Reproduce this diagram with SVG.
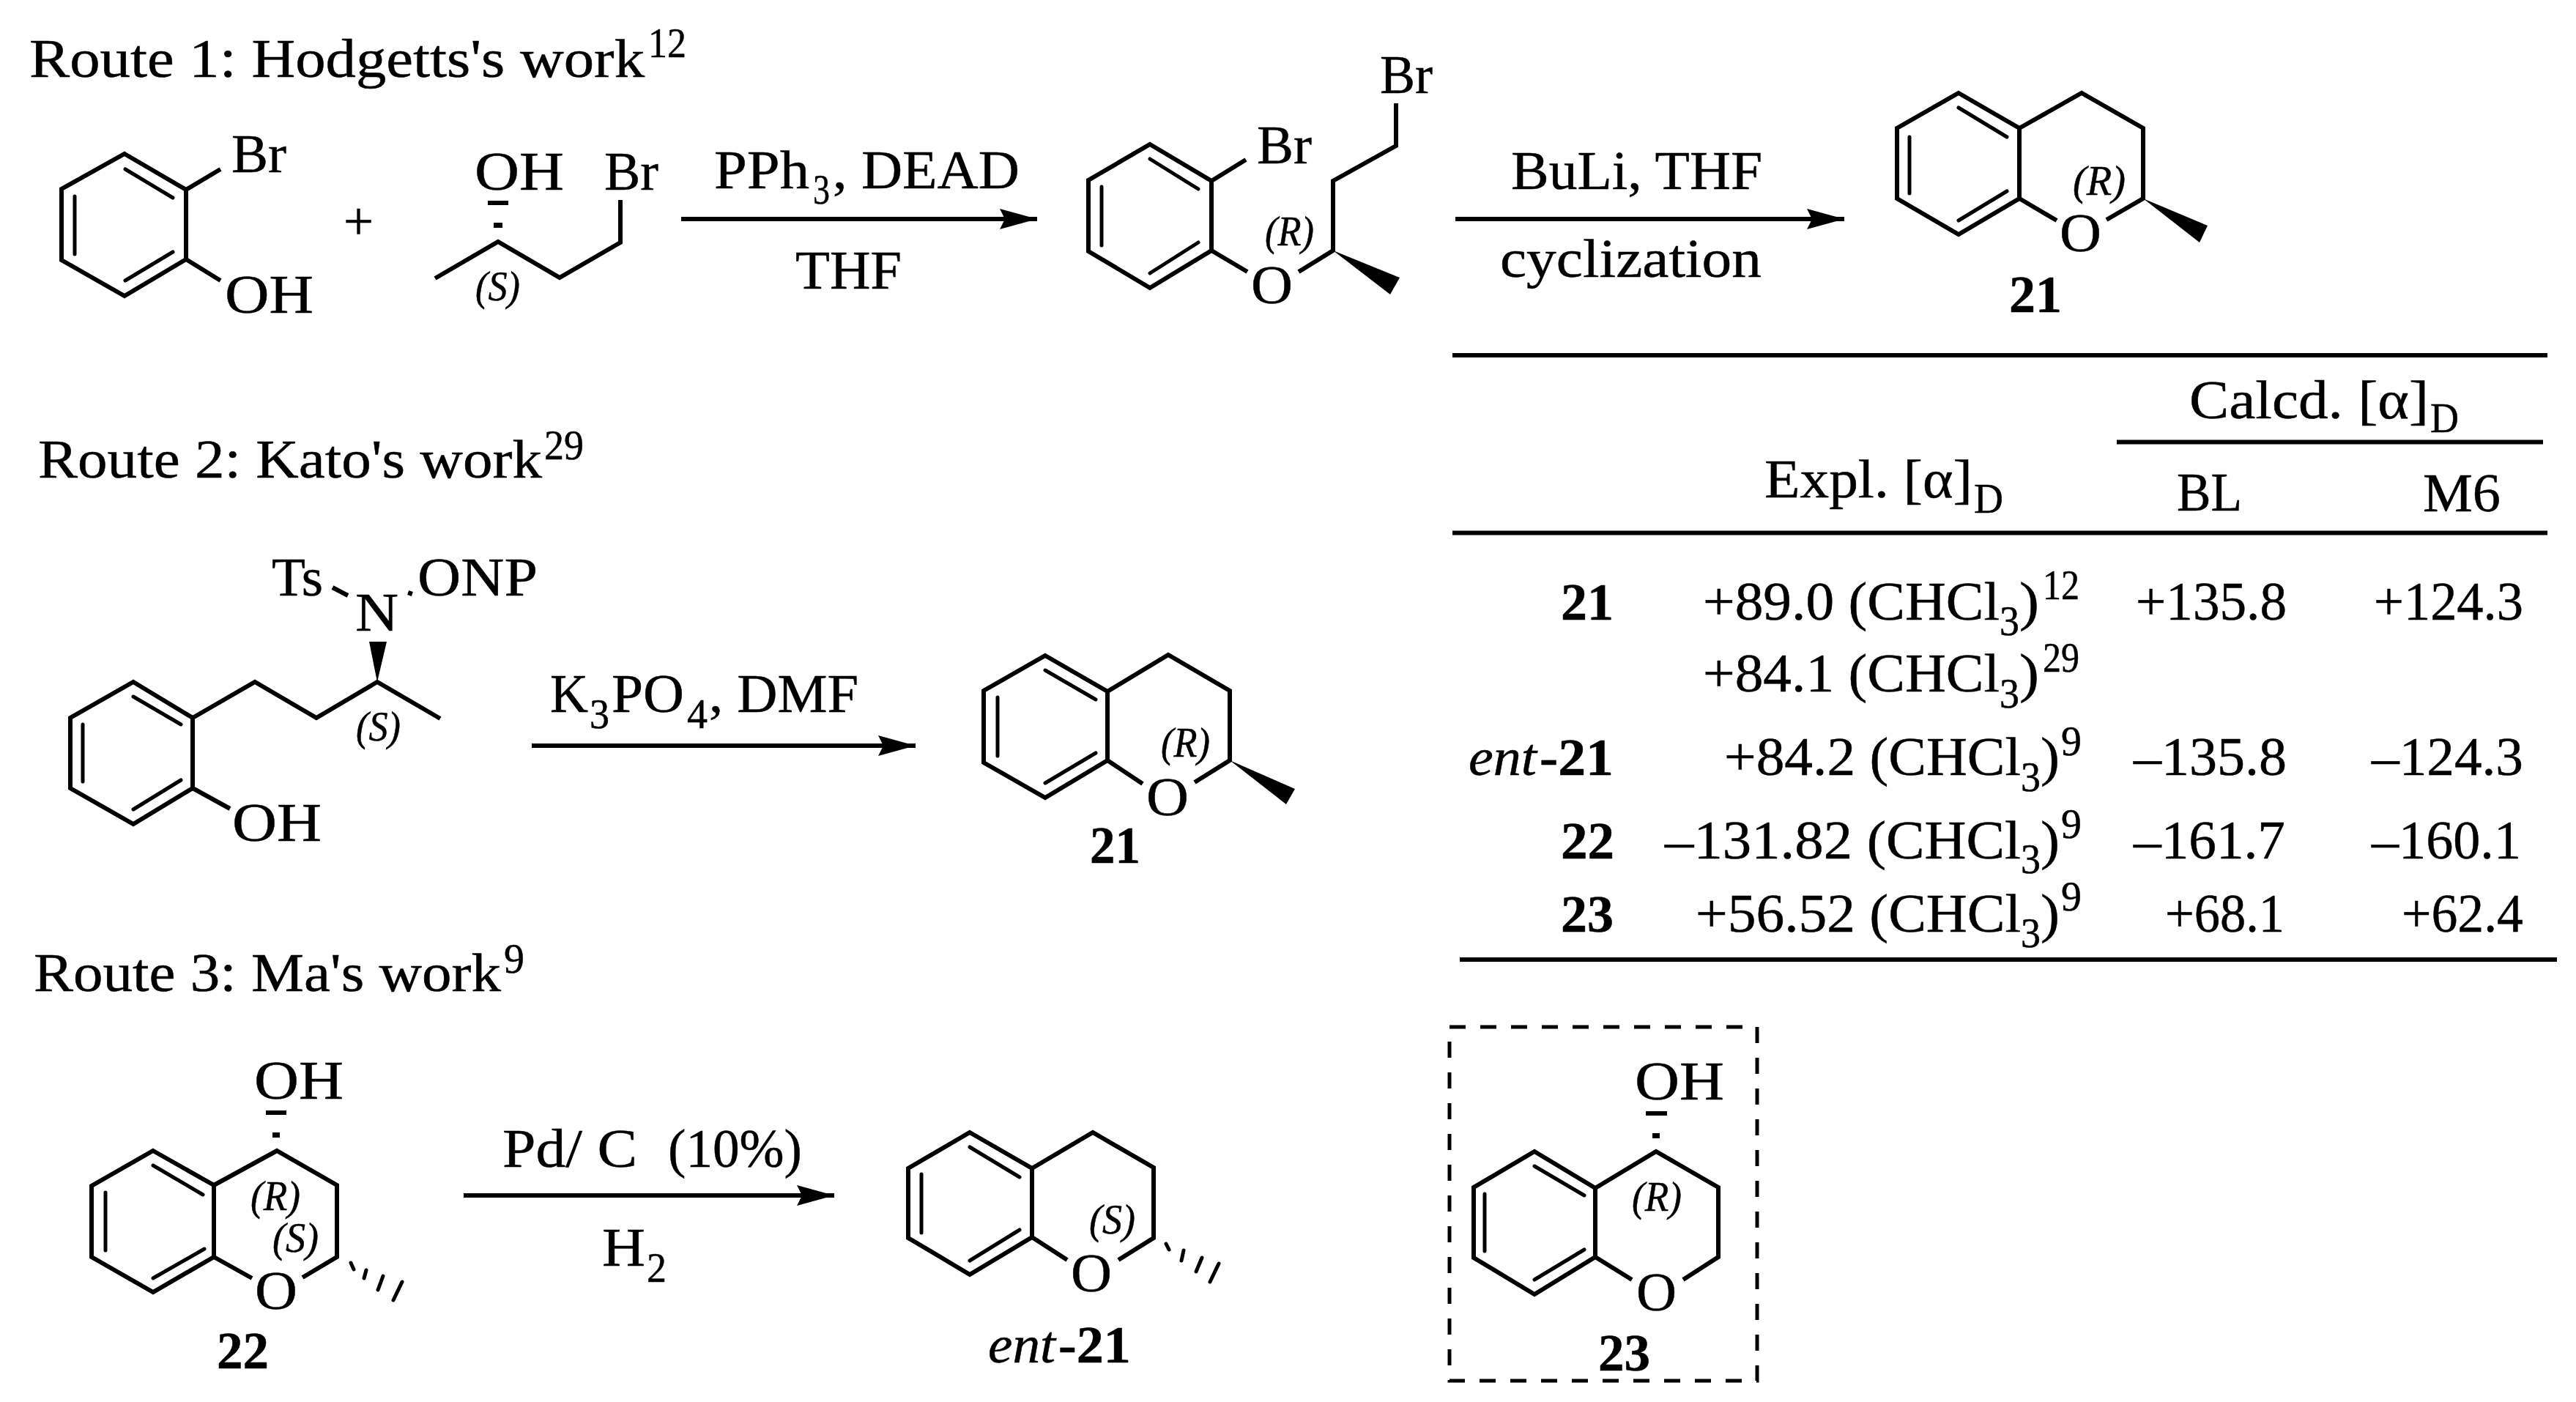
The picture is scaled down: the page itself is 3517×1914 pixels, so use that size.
<svg xmlns="http://www.w3.org/2000/svg" width="3517" height="1914" viewBox="0 0 3517 1914">
<style>
text{font-family:"Liberation Serif","Times New Roman",serif;fill:#000;font-size:75px;stroke:#000;stroke-width:.5}
.s{font-size:56px}
.b{font-weight:bold;font-size:71px}
.n{font-weight:normal}
.i{font-style:italic;font-size:58px}
.e{font-style:italic;font-weight:normal}
.l{fill:none;stroke:#000;stroke-width:6;stroke-linejoin:miter;stroke-linecap:butt}
.d{fill:none;stroke:#000;stroke-width:5;stroke-linecap:round}
.r{fill:none;stroke:#000;stroke-width:5;stroke-linecap:butt}
.k{fill:#000;stroke:none}
</style>
<defs>
<marker id="ah" markerUnits="userSpaceOnUse" markerWidth="52" markerHeight="28" refX="51" refY="14" orient="auto"><path d="M51 14L0 0L7 14L0 28Z" fill="#000"/></marker>
</defs>
<rect width="3517" height="1914" fill="#fff"/>
<g id="titles">
<text><tspan x="40" y="105" textLength="840" lengthAdjust="spacingAndGlyphs">Route 1: Hodgetts's work</tspan><tspan class="s" x="885" y="78" textLength="52" lengthAdjust="spacingAndGlyphs">12</tspan></text>
<text><tspan x="52" y="652" textLength="688" lengthAdjust="spacingAndGlyphs">Route 2: Kato's work</tspan><tspan class="s" x="743" y="627" textLength="54" lengthAdjust="spacingAndGlyphs">29</tspan></text>
<text><tspan x="46" y="1353" textLength="638" lengthAdjust="spacingAndGlyphs">Route 3: Ma's work</tspan><tspan class="s" x="688" y="1328" textLength="28" lengthAdjust="spacingAndGlyphs">9</tspan></text>
</g>
<g id="bromophenol">
<path class="l" d="M170 210L254 259V354L170 404L84 355V258Z"/>
<path class="d" d="M171 231L236 270M102 268V347M171 383L236 344"/>
<path class="l" d="M254 259L301 231M254 354L301 383"/>
<text x="316" y="235" textLength="75" lengthAdjust="spacingAndGlyphs">Br</text>
<text x="307" y="427" textLength="121" lengthAdjust="spacingAndGlyphs">OH</text>
</g>
<text id="plus" x="469" y="327" textLength="41" lengthAdjust="spacingAndGlyphs" style="font-size:73px">+</text>
<g id="bromobutanol">
<path class="l" d="M594 380L680 330L764 379L847 331V273"/>
<rect class="k" x="666" y="274" width="28" height="6"/>
<rect class="k" x="674" y="304" width="12" height="7"/>
<text x="648" y="259" textLength="122" lengthAdjust="spacingAndGlyphs">OH</text>
<text x="825" y="259" textLength="74" lengthAdjust="spacingAndGlyphs">Br</text>
<text class="i" x="649" y="410" textLength="61" lengthAdjust="spacingAndGlyphs">(S)</text>
</g>
<g id="ether">
<path class="l" d="M1570 197L1654 247V342L1570 393L1486 343V246Z"/>
<path class="d" d="M1570 217L1636 258M1504 255V335M1570 373L1636 331"/>
<path class="l" d="M1654 247L1701 218M1654 342L1703 371M1773 371L1820 342V247L1906 199V141"/>
<polygon class="k" points="1820,342 1911,379 1898,402"/>
<text x="1716" y="223" textLength="75" lengthAdjust="spacingAndGlyphs">Br</text>
<text x="1884" y="127" textLength="72" lengthAdjust="spacingAndGlyphs">Br</text>
<text x="1708" y="414" textLength="57" lengthAdjust="spacingAndGlyphs">O</text>
<text class="i" x="1727" y="335" textLength="67" lengthAdjust="spacingAndGlyphs">(R)</text>
</g>
<g id="compound-21-route1">
<path class="l" d="M2674 127L2757 175V271L2674 320L2590 271V175Z"/>
<path class="d" d="M2674 147L2740 187M2607 187V264M2674 301L2740 261"/>
<path class="l" d="M2757 175L2842 127L2926 175V271L2876 300M2757 271L2808 301"/>
<polygon class="k" points="2926,271 3014,308 3003,331"/>
<text x="2812" y="343" textLength="57" lengthAdjust="spacingAndGlyphs">O</text>
<text class="i" x="2830" y="266" textLength="72" lengthAdjust="spacingAndGlyphs">(R)</text>
<text class="b" x="2743" y="426" textLength="72" lengthAdjust="spacingAndGlyphs">21</text>
</g>
<g id="precursor-route2">
<path class="l" d="M182 931L263 980V1076L182 1125L96 1076V980Z"/>
<path class="d" d="M182 951L247 989M113 989V1067M182 1105L247 1065"/>
<path class="l" d="M263 980L348 931L432 980L515 931L601 981M263 1076L314 1104"/>
<polygon class="k" points="515,931 504,876 528,876"/>
<path class="l" d="M454 802L475 813M561 807L559 813"/>
<text x="485" y="861" textLength="59" lengthAdjust="spacingAndGlyphs">N</text>
<text x="371" y="813" textLength="70" lengthAdjust="spacingAndGlyphs">Ts</text>
<text x="570" y="813" textLength="164" lengthAdjust="spacingAndGlyphs">ONP</text>
<text x="317" y="1148" textLength="122" lengthAdjust="spacingAndGlyphs">OH</text>
<text class="i" x="486" y="1011" textLength="61" lengthAdjust="spacingAndGlyphs">(S)</text>
</g>
<g id="compound-21-route2">
<path class="l" d="M1427 895L1512 944V1038L1427 1089L1343 1041V943Z"/>
<path class="d" d="M1427 915L1496 955M1362 952V1032M1427 1069L1496 1028"/>
<path class="l" d="M1512 944L1595 894L1679 943V1038L1631 1068M1512 1038L1560 1070"/>
<polygon class="k" points="1679,1038 1768,1077 1756,1098"/>
<text x="1565" y="1113" textLength="58" lengthAdjust="spacingAndGlyphs">O</text>
<text class="i" x="1585" y="1033" textLength="67" lengthAdjust="spacingAndGlyphs">(R)</text>
<text class="b" x="1488" y="1178" textLength="69" lengthAdjust="spacingAndGlyphs">21</text>
</g>
<g id="compound-22">
<path class="l" d="M209 1571L292 1618V1716L209 1764L125 1716V1619Z"/>
<path class="d" d="M209 1591L277 1631M144 1628V1707M209 1745L279 1705"/>
<path class="l" d="M292 1618L378 1571L460 1618V1716L413 1744M292 1716L344 1745"/>
<path class="d" d="M479 1724L483 1733M500 1734L497 1745M523 1742L516 1761M549 1750L537 1775"/>
<rect class="k" x="363" y="1516" width="28" height="6"/>
<rect class="k" x="372" y="1546" width="10" height="7"/>
<text x="347" y="1500" textLength="122" lengthAdjust="spacingAndGlyphs">OH</text>
<text x="348" y="1787" textLength="58" lengthAdjust="spacingAndGlyphs">O</text>
<text class="i" x="342" y="1652" textLength="68" lengthAdjust="spacingAndGlyphs">(R)</text>
<text class="i" x="372" y="1709" textLength="63" lengthAdjust="spacingAndGlyphs">(S)</text>
<text class="b" x="296" y="1868" textLength="71" lengthAdjust="spacingAndGlyphs">22</text>
</g>
<g id="compound-ent-21">
<path class="l" d="M1324 1546L1409 1595V1689L1324 1740L1240 1690V1595Z"/>
<path class="d" d="M1324 1566L1392 1607M1258 1603V1683M1324 1721L1392 1679"/>
<path class="l" d="M1409 1595L1492 1546L1575 1594V1690L1527 1720M1409 1689L1457 1720"/>
<path class="d" d="M1592 1698L1596 1706M1616 1707L1613 1721M1641 1717L1633 1736M1664 1725L1652 1750"/>
<text x="1462" y="1763" textLength="56" lengthAdjust="spacingAndGlyphs">O</text>
<text class="i" x="1487" y="1684" textLength="63" lengthAdjust="spacingAndGlyphs">(S)</text>
<text class="b"><tspan class="e" x="1349" y="1860" textLength="92" lengthAdjust="spacingAndGlyphs">ent</tspan><tspan x="1445" y="1860" textLength="99" lengthAdjust="spacingAndGlyphs">-21</tspan></text>
</g>
<g id="compound-23">
<rect class="r" x="1979" y="1402" width="420" height="483" stroke-dasharray="22 20"/>
<path class="l" d="M2095 1572L2178 1622V1716L2095 1767L2012 1717V1621Z"/>
<path class="d" d="M2095 1592L2163 1632M2027 1630V1708M2095 1747L2163 1706"/>
<path class="l" d="M2178 1622L2261 1572L2346 1621V1716L2298 1747M2178 1716L2228 1747"/>
<rect class="k" x="2247" y="1517" width="29" height="6"/>
<rect class="k" x="2256" y="1547" width="10" height="7"/>
<text x="2232" y="1501" textLength="122" lengthAdjust="spacingAndGlyphs">OH</text>
<text x="2234" y="1789" textLength="55" lengthAdjust="spacingAndGlyphs">O</text>
<text class="i" x="2228" y="1653" textLength="68" lengthAdjust="spacingAndGlyphs">(R)</text>
<text class="b" x="2182" y="1871" textLength="71" lengthAdjust="spacingAndGlyphs">23</text>
</g>
<g id="connectors">
<line class="l" x1="930" y1="299" x2="1416" y2="299" marker-end="url(#ah)"/>
<line class="l" x1="1987" y1="299" x2="2518" y2="299" marker-end="url(#ah)"/>
<line class="l" x1="726" y1="1018" x2="1250" y2="1018" marker-end="url(#ah)"/>
<line class="l" x1="633" y1="1632" x2="1139" y2="1632" marker-end="url(#ah)"/>
</g>
<g id="reaction-labels">
<text><tspan x="975" y="257" textLength="130" lengthAdjust="spacingAndGlyphs">PPh</tspan><tspan class="s" x="1110" y="278" textLength="23" lengthAdjust="spacingAndGlyphs">3</tspan><tspan x="1137" y="257" textLength="255" lengthAdjust="spacingAndGlyphs">, DEAD</tspan></text>
<text x="1086" y="394" textLength="145" lengthAdjust="spacingAndGlyphs">THF</text>
<text x="2063" y="258" textLength="343" lengthAdjust="spacingAndGlyphs">BuLi, THF</text>
<text x="2048" y="378" textLength="357" lengthAdjust="spacingAndGlyphs">cyclization</text>
<text><tspan x="751" y="972" textLength="52" lengthAdjust="spacingAndGlyphs">K</tspan><tspan class="s" x="805" y="994" textLength="27" lengthAdjust="spacingAndGlyphs">3</tspan><tspan x="835" y="972" textLength="99" lengthAdjust="spacingAndGlyphs">PO</tspan><tspan class="s" x="938" y="994" textLength="28" lengthAdjust="spacingAndGlyphs">4</tspan><tspan x="968" y="972" textLength="204" lengthAdjust="spacingAndGlyphs">, DMF</tspan></text>
<text xml:space="preserve"><tspan x="686" y="1593" textLength="184" lengthAdjust="spacingAndGlyphs">Pd/ C</tspan><tspan x="912" y="1593" textLength="183" lengthAdjust="spacingAndGlyphs">(10%)</tspan></text>
<text><tspan x="822" y="1728" textLength="59" lengthAdjust="spacingAndGlyphs">H</tspan><tspan class="s" x="883" y="1750" textLength="27" lengthAdjust="spacingAndGlyphs">2</tspan></text>
</g>
<g id="table">
<path class="l" d="M1983 485H3478M2890 603.500H3472M1983 727.500H3478M1993 1310H3491"/>
<text><tspan x="2989" y="571" textLength="327" lengthAdjust="spacingAndGlyphs">Calcd. [α]</tspan><tspan class="s" x="3318" y="590" textLength="39" lengthAdjust="spacingAndGlyphs">D</tspan></text>
<text><tspan x="2409" y="679" textLength="284" lengthAdjust="spacingAndGlyphs">Expl. [α]</tspan><tspan class="s" x="2695" y="700" textLength="40" lengthAdjust="spacingAndGlyphs">D</tspan></text>
<text x="2972" y="697" textLength="89" lengthAdjust="spacingAndGlyphs">BL</text>
<text x="3308" y="698" textLength="106" lengthAdjust="spacingAndGlyphs">M6</text>
<text class="b" x="2131" y="846" textLength="72" lengthAdjust="spacingAndGlyphs">21</text>
<text><tspan x="2325" y="846" textLength="405" lengthAdjust="spacingAndGlyphs">+89.0 (CHCl</tspan><tspan class="s" x="2730" y="867" textLength="27" lengthAdjust="spacingAndGlyphs">3</tspan><tspan x="2757" y="846" textLength="27" lengthAdjust="spacingAndGlyphs">)</tspan><tspan class="s" x="2789" y="818" textLength="50" lengthAdjust="spacingAndGlyphs">12</tspan></text>
<text x="2916" y="846" textLength="206" lengthAdjust="spacingAndGlyphs">+135.8</text>
<text x="3241" y="846" textLength="204" lengthAdjust="spacingAndGlyphs">+124.3</text>
<text><tspan x="2325" y="944" textLength="405" lengthAdjust="spacingAndGlyphs">+84.1 (CHCl</tspan><tspan class="s" x="2730" y="966" textLength="27" lengthAdjust="spacingAndGlyphs">3</tspan><tspan x="2757" y="944" textLength="27" lengthAdjust="spacingAndGlyphs">)</tspan><tspan class="s" x="2789" y="917" textLength="50" lengthAdjust="spacingAndGlyphs">29</tspan></text>
<text class="b"><tspan class="e" x="2005" y="1058" textLength="93" lengthAdjust="spacingAndGlyphs">ent</tspan><tspan x="2102" y="1058" textLength="101" lengthAdjust="spacingAndGlyphs">-21</tspan></text>
<text><tspan x="2354" y="1058" textLength="405" lengthAdjust="spacingAndGlyphs">+84.2 (CHCl</tspan><tspan class="s" x="2759" y="1080" textLength="27" lengthAdjust="spacingAndGlyphs">3</tspan><tspan x="2786" y="1058" textLength="26" lengthAdjust="spacingAndGlyphs">)</tspan><tspan class="s" x="2814" y="1031" textLength="28" lengthAdjust="spacingAndGlyphs">9</tspan></text>
<text x="2913" y="1058" textLength="209" lengthAdjust="spacingAndGlyphs">–135.8</text>
<text x="3238" y="1058" textLength="207" lengthAdjust="spacingAndGlyphs">–124.3</text>
<text class="b" x="2131" y="1172" textLength="73" lengthAdjust="spacingAndGlyphs">22</text>
<text><tspan x="2273" y="1172" textLength="486" lengthAdjust="spacingAndGlyphs">–131.82 (CHCl</tspan><tspan class="s" x="2759" y="1192" textLength="27" lengthAdjust="spacingAndGlyphs">3</tspan><tspan x="2786" y="1172" textLength="26" lengthAdjust="spacingAndGlyphs">)</tspan><tspan class="s" x="2814" y="1144" textLength="28" lengthAdjust="spacingAndGlyphs">9</tspan></text>
<text x="2913" y="1172" textLength="207" lengthAdjust="spacingAndGlyphs">–161.7</text>
<text x="3238" y="1172" textLength="204" lengthAdjust="spacingAndGlyphs">–160.1</text>
<text class="b" x="2131" y="1272" textLength="72" lengthAdjust="spacingAndGlyphs">23</text>
<text><tspan x="2315" y="1272" textLength="444" lengthAdjust="spacingAndGlyphs">+56.52 (CHCl</tspan><tspan class="s" x="2759" y="1293" textLength="27" lengthAdjust="spacingAndGlyphs">3</tspan><tspan x="2786" y="1272" textLength="26" lengthAdjust="spacingAndGlyphs">)</tspan><tspan class="s" x="2814" y="1243" textLength="28" lengthAdjust="spacingAndGlyphs">9</tspan></text>
<text x="2956" y="1272" textLength="163" lengthAdjust="spacingAndGlyphs">+68.1</text>
<text x="3279" y="1272" textLength="166" lengthAdjust="spacingAndGlyphs">+62.4</text>
</g>
</svg>
